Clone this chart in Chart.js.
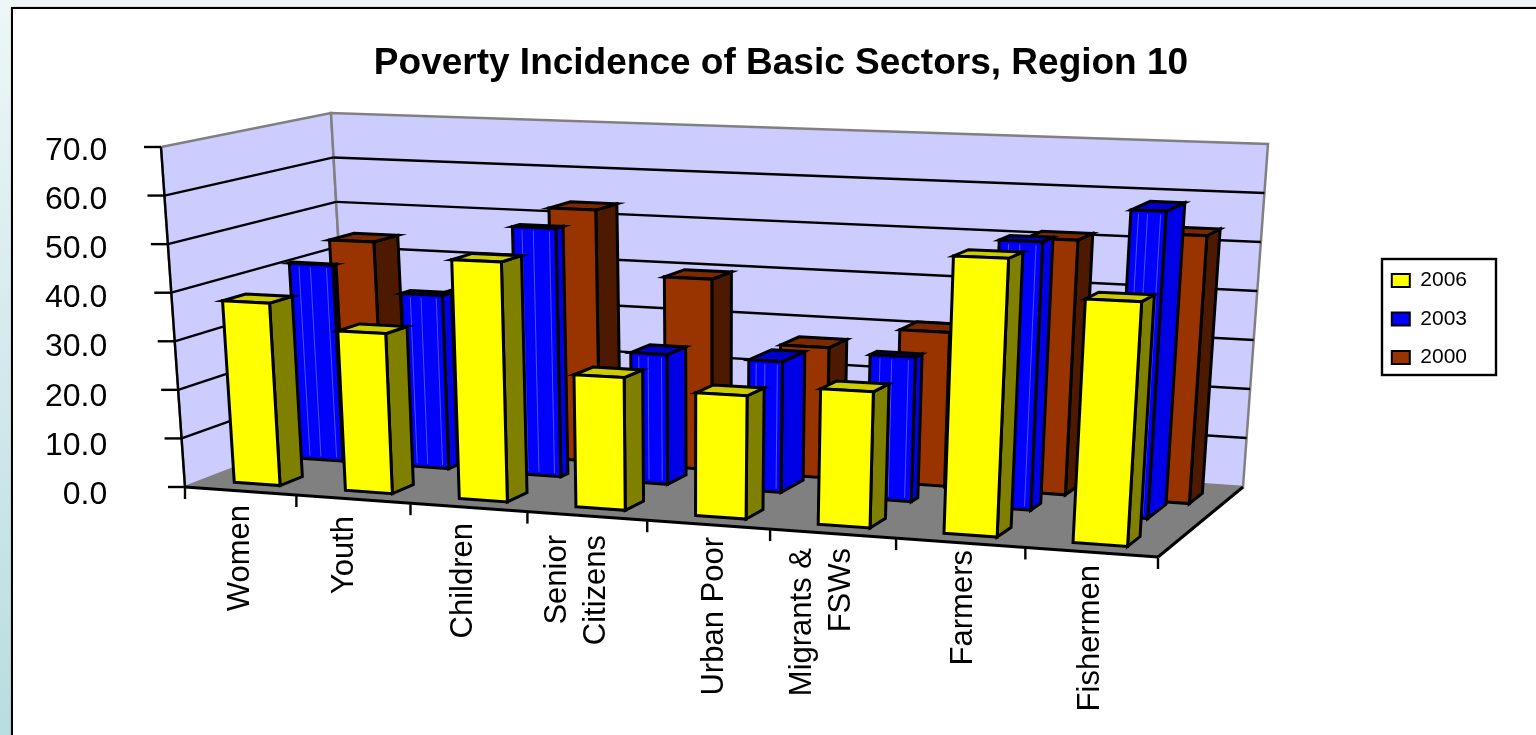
<!DOCTYPE html>
<html>
<head>
<meta charset="utf-8">
<title>Poverty Incidence of Basic Sectors, Region 10</title>
<script src="https://cdn.jsdelivr.net/npm/chart.js@4/dist/chart.umd.min.js"></script>
<style>
  html, body { margin: 0; height: 100%; overflow: hidden; background: linear-gradient(#eef6f7, #b8dde0); }
  #panel { position: absolute; left: 11px; top: 7px; width: 1600px; height: 800px; background: #fff; border: 2px solid #000; box-shadow: 0 0 1px #888; }
  #wrap { position: absolute; left: 0; top: 0; width: 1536px; height: 735px; }
</style>
</head>
<body>
<div id="panel"></div>
<div id="wrap"><canvas id="myChart"></canvas></div>
<script>
const categories = ['Women', 'Youth', 'Children', ['Senior', 'Citizens'], 'Urban Poor', ['Migrants &', 'FSWs'], 'Farmers', 'Fishermen'];
const values2006 = [37.6, 32.6, 48.3, 26.4, 24.2, 26.4, 53.4, 46.3];
const values2003 = [41.8, 36.5, 51.7, 26.7, 26.6, 29, 53.2, 60.2];
const values2000 = [44.5, 34, 53.5, 40, 27, 31.5, 51.5, 53.5];

// screen position of the box the bars stand in
const floorBox = { fl: [185, 487], fr: [1158, 557], br: [1243, 487], bl: [349, 424] };
const topBox = { fl: [161, 147], fr: [1181, 182], br: [1268, 144], bl: [331, 113] };
// per series: depth range, and bar edges as a share of the category width
const depthRows = [[0.12, 0.27], [0.52, 0.52], [0.75, 0.89]];
const barEdges = [[-0.215, 0.2], [-0.175, 0.235], [-0.155, 0.255]];
const blueDepth = [0.02, 0.06, 0.05, 0.14, 0.18, 0.06, 0.1, 0.2];
const labelTops = [505, 516, 523, 535, 537, 548, 550, 565];
const labelShifts = [3, -6, -2, -7, 9, -8, 6, 2];
const faceColors = [
    { front: '#ffff00', side: '#808000', top: '#cccc00' },
    { front: '#0000ff', side: '#0000e6', top: '#0000c8' },
    { front: '#993300', side: '#4d1a00', top: '#7a2900' }
];

function warp(t, r) {
    return t / (t + (1 - t) * r);
}

function corner(box, u, w) {
    const a = warp(u, 1.105), b = warp(w, 1.1);
    return [0, 1].map(k =>
        (1 - b) * ((1 - a) * box.fl[k] + a * box.fr[k]) + b * ((1 - a) * box.bl[k] + a * box.br[k]));
}

// u along the categories, v up the value axis, w into the depth, all 0..1
function project(u, v, w) {
    const f = corner(floorBox, u, w), t = corner(topBox, u, w);
    return [f[0] + (t[0] - f[0]) * v, f[1] + (t[1] - f[1]) * v];
}

function poly(ctx, pts, fill) {
    ctx.beginPath();
    pts.forEach((p, i) => i ? ctx.lineTo(p[0], p[1]) : ctx.moveTo(p[0], p[1]));
    ctx.closePath();
    if (fill) {
        ctx.fillStyle = fill;
        ctx.fill();
    }
    ctx.stroke();
}

function line(ctx, a, b) {
    ctx.beginPath();
    ctx.moveTo(a[0], a[1]);
    ctx.lineTo(b[0], b[1]);
    ctx.stroke();
}

const box3d = {
    id: 'box3d',
    afterLayout(chart) {
        // title sits right of the middle in the original, legend a bit above it
        chart.titleBlock.left += 24;
        chart.titleBlock.right += 24;
        chart.legend.top -= 4;
        chart.legend.bottom -= 4;
    },
    beforeDatasetsDraw(chart) {
        const ctx = chart.ctx, yScale = chart.scales.y, area = chart.chartArea;
        ctx.save();
        ctx.lineJoin = 'miter';
        // walls
        ctx.strokeStyle = '#808080';
        ctx.lineWidth = 2.5;
        poly(ctx, [project(0, 0, 0), project(0, 1, 0), project(0, 1, 1), project(0, 0, 1)], '#ccccff');
        poly(ctx, [project(0, 0, 1), project(0, 1, 1), project(1, 1, 1), project(1, 0, 1)], '#ccccff');
        // floor
        ctx.lineWidth = 1;
        poly(ctx, [project(0, 0, 0), project(1, 0, 0), project(1, 0, 1), project(0, 0, 1)], '#808080');
        // grid lines from the y ticks
        ctx.strokeStyle = '#000';
        ctx.lineWidth = 2.4;
        yScale.ticks.forEach(t => {
            const v = (area.bottom - yScale.getPixelForValue(t.value)) / area.height;
            if (v > 0 && v < 1) {
                line(ctx, project(0, v, 0), project(0, v, 1));
                line(ctx, project(0, v, 1), project(1, v, 1));
            }
            const p = project(0, v, 0);
            line(ctx, [p[0] - 17, p[1]], p);
        });
        line(ctx, project(0, 0, 0), project(0, 1, 0));
        ctx.lineWidth = 3;
        line(ctx, project(0, 0, 0), project(1, 0, 0));
        line(ctx, project(1, 0, 0), project(1, 0, 1));
        ctx.lineWidth = 2.4;
        for (let i = 0; i <= categories.length; i++) {
            const p = project(i / categories.length, 0, 0);
            line(ctx, [p[0], p[1] + 1], [p[0], p[1] + 12]);
        }
        // legend frame
        ctx.strokeRect(1382, 259, 114, 116);
        ctx.restore();
    },
    beforeDatasetDraw(chart, args) {
        const ctx = chart.ctx, area = chart.chartArea;
        const colors = faceColors[args.index], row = depthRows[args.index], edges = barEdges[args.index];
        const isBlue = args.index === 1;
        ctx.save();
        ctx.lineJoin = 'miter';
        ctx.strokeStyle = '#000';
        args.meta.data.forEach((bar, i) => {
            // the blue bars are turned a little, so less front and more side
            const d = isBlue ? blueDepth[i] : row[1] - row[0];
            const right = isBlue ? edges[0] + 0.41 - 0.72 * d : edges[1];
            const u0 = (bar.x + edges[0] * bar.width - area.left) / area.width;
            const u1 = (bar.x + right * bar.width - area.left) / area.width;
            const v = (bar.base - bar.y) / area.height;
            const w0 = row[0], w1 = row[0] + d;
            ctx.lineWidth = 3;
            poly(ctx, [project(u1, 0, w0), project(u1, 0, w1), project(u1, v, w1), project(u1, v, w0)], colors.side);
            poly(ctx, [project(u0, v, w0), project(u1, v, w0), project(u1, v, w1), project(u0, v, w1)], colors.top);
            poly(ctx, [project(u0, 0, w0), project(u1, 0, w0), project(u1, v, w0), project(u0, v, w0)], colors.front);
            if (isBlue) {
                ctx.save();
                ctx.strokeStyle = 'rgba(110, 110, 255, 0.7)';
                ctx.lineWidth = 1;
                [0.22, 0.48, 0.85].forEach(f => {
                    const u = u0 + (u1 - u0) * f;
                    line(ctx, project(u, 0.01, w0), project(u, v - 0.01, w0));
                });
                ctx.restore();
            }
        });
        ctx.restore();
        return false;
    },
    afterDraw(chart) {
        // category labels follow the slanted floor
        const ctx = chart.ctx, xScale = chart.scales.x;
        ctx.save();
        ctx.fillStyle = '#000';
        ctx.font = '31px "Liberation Sans"';
        ctx.textAlign = 'right';
        ctx.textBaseline = 'middle';
        categories.forEach((c, i) => {
            const u = (xScale.getPixelForTick(i) - chart.chartArea.left) / chart.chartArea.width;
            const x = project(u, 0, 0)[0] + labelShifts[i];
            const lines = [].concat(c);
            lines.forEach((text, k) => {
                ctx.save();
                ctx.translate(x - 3 + (k - (lines.length - 1) / 2) * 39, labelTops[i]);
                ctx.rotate(-Math.PI / 2);
                ctx.fillText(text, 0, 0);
                ctx.restore();
            });
        });
        ctx.restore();
    }
};

new Chart(document.getElementById('myChart'), {
    type: 'bar',
    data: {
        labels: categories,
        datasets: [
            { label: '2006', data: values2006, backgroundColor: '#ffff00', borderColor: '#000', borderWidth: 2 },
            { label: '2003', data: values2003, backgroundColor: '#0000ff', borderColor: '#000', borderWidth: 2 },
            { label: '2000', data: values2000, backgroundColor: '#993300', borderColor: '#000', borderWidth: 2 }
        ]
    },
    plugins: [box3d],
    options: {
        responsive: true,
        maintainAspectRatio: false,
        animation: false,
        grouped: false,
        categoryPercentage: 1,
        barPercentage: 1,
        layout: { padding: { left: 37, top: 28, right: 59, bottom: 240 } },
        scales: {
            x: { display: false },
            y: {
                min: 0,
                max: 70,
                ticks: {
                    stepSize: 10,
                    padding: 8,
                    color: '#000',
                    font: { family: '"Liberation Sans"', size: 32 },
                    callback: v => v.toFixed(1)
                },
                grid: { display: false, drawTicks: false },
                border: { display: false }
            }
        },
        plugins: {
            title: {
                display: true,
                text: 'Poverty Incidence of Basic Sectors, Region 10',
                color: '#000',
                font: { family: '"Liberation Sans"', size: 37, weight: 'bold' },
                padding: { top: 14, bottom: 64.6 }
            },
            legend: {
                position: 'right',
                fullSize: false,
                labels: {
                    boxWidth: 18,
                    boxHeight: 13,
                    padding: 17.5,
                    color: '#000',
                    font: { family: '"Liberation Sans"', size: 21 }
                }
            },
            tooltip: { enabled: false }
        }
    }
});
</script>
</body>
</html>
